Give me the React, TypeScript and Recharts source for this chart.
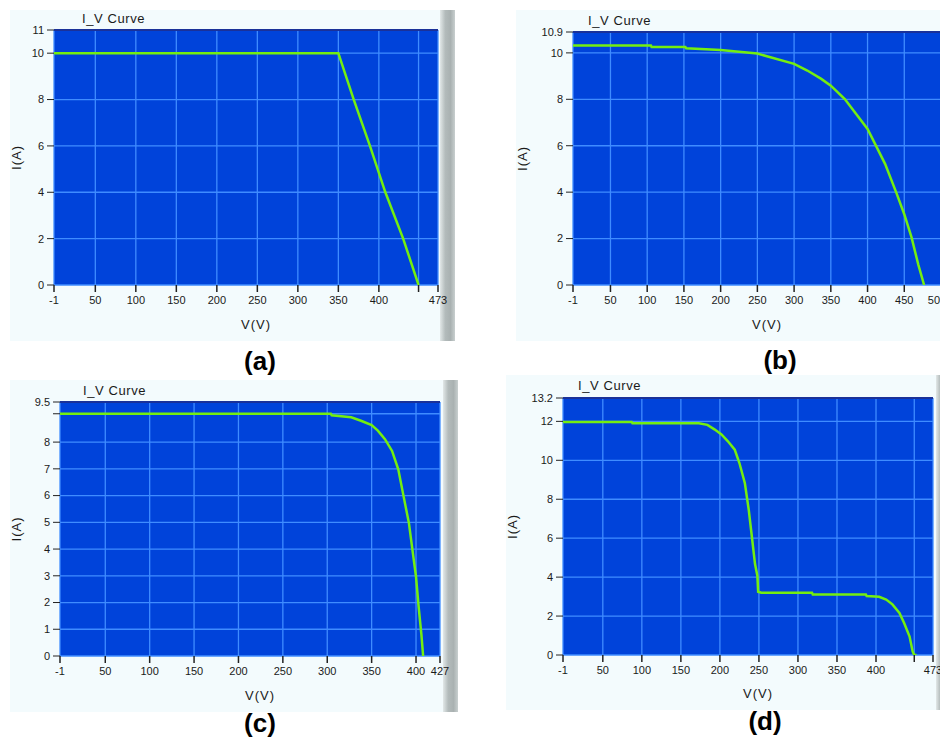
import React from "react";
import { LineChart, Line, XAxis, YAxis, CartesianGrid, ReferenceLine, Label } from "recharts";

// panel (a)
const voltsA = [-1, 100, 200, 300, 350, 369, 389, 408, 430, 449];
const ampsA = [10, 10, 10, 10, 10, 8, 6, 4, 2, 0];
const xTicksA = [-1, 50, 100, 150, 200, 250, 300, 350, 400, 449, 473];
const yTicksA = [0, 2, 4, 6, 8, 10, 11];

// panel (b)
const voltsB = [-1, 50, 105, 106, 152, 153, 200, 250, 300, 318, 337, 350, 369, 400, 424, 439, 450, 460, 469, 477];
const ampsB = [10.32, 10.32, 10.32, 10.25, 10.25, 10.2, 10.12, 9.97, 9.53, 9.24, 8.88, 8.59, 8.01, 6.72, 5.21, 3.99, 3.05, 2.04, 0.89, 0];
const xTicksB = [-1, 50, 100, 150, 200, 250, 300, 350, 400, 450, 500];
const yTicksB = [0, 2, 4, 6, 8, 10, 10.9];

// panel (c)
const voltsC = [-1, 100, 200, 304, 305, 327, 338, 350, 357, 365, 373, 380, 386, 392, 396, 400, 403, 406, 408];
const ampsC = [9.06, 9.06, 9.06, 9.06, 9.0, 8.93, 8.8, 8.64, 8.43, 8.11, 7.67, 6.98, 5.97, 4.97, 3.96, 2.96, 1.82, 0.82, 0];
const xTicksC = [-1, 50, 100, 150, 200, 250, 300, 350, 400, 427];
const yTicksC = [0, 1, 2, 3, 4, 5, 6, 7, 8, 9.06, 9.5];

// panel (d)
const voltsD = [-1, 87, 88, 173, 184, 193, 202, 210, 219, 225, 232, 237, 241, 245, 248, 249, 253, 318, 319, 387, 388, 404, 413, 421, 430, 436, 443, 447, 449, 452];
const ampsD = [11.97, 11.97, 11.9, 11.9, 11.82, 11.59, 11.33, 10.99, 10.55, 9.86, 8.82, 7.44, 6.06, 4.67, 4.07, 3.25, 3.2, 3.2, 3.11, 3.11, 3.03, 2.99, 2.85, 2.6, 2.16, 1.64, 0.95, 0.17, 0, 0];
const xTicksD = [-1, 50, 100, 150, 200, 250, 300, 350, 400, 449, 473];
const yTicksD = [0, 2, 4, 6, 8, 10, 12, 13.2];

const FONT = "'Liberation Sans', Arial, sans-serif";
const EXTRA = 24; // room on the right so the last tick label is not clipped
const toRows = (v: number[], i: number[]) => v.map((x, k) => ({ v: x, i: i[k] }));

interface PanelProps {
  caption: string;
  box: [number, number, number, number]; // left, top, right, bottom
  plot: [number, number, number, number];
  barRight: number;
  captionX: number;
  captionY: number;
  titleX: number;
  titleY: number;
  volts: number[];
  amps: number[];
  xTicks: number[];
  yTicks: number[];
  hideX?: number[];
  hideY?: number[];
  lastShift?: number;
}

function Panel(p: PanelProps) {
  const [bl, bt, br, bb] = p.box;
  const [pl, pt, pr, pb] = p.plot;
  const w = br - bl;
  const h = bb - bt;
  const xMin = p.xTicks[0];
  const xMax = p.xTicks[p.xTicks.length - 1];
  const yMax = p.yTicks[p.yTicks.length - 1];
  const tickStyle = { fontSize: 11, fill: "#1a1a1a", fontFamily: FONT };

  const XTick = (props: any) => {
    const { x, y, payload } = props;
    const v = payload.value as number;
    if ((p.hideX || []).includes(v)) return <g />;
    const shift = v === xMax ? p.lastShift || 0 : 0;
    return (
      <text x={x + shift} y={y} dy="0.71em" textAnchor="middle" {...tickStyle}>
        {String(v)}
      </text>
    );
  };

  return (
    <>
      <div style={{ position: "absolute", left: bl, top: bt, width: w, height: h, background: "#f3fbfd" }} />
      <div
        style={{
          position: "absolute",
          left: br,
          top: bt,
          width: p.barRight - br,
          height: h,
          background: "linear-gradient(to right, #e2e8e8 0%, #b3bbbb 35%, #a9b1b1 70%, #c8cfcf 100%)",
        }}
      />
      <div style={{ position: "absolute", left: bl, top: bt, width: w + EXTRA, height: h }}>
        <LineChart
          width={w + EXTRA}
          height={h}
          data={toRows(p.volts, p.amps)}
          margin={{ top: pt - bt, right: br - pr + EXTRA, left: 0, bottom: 0 }}
        >
          <CartesianGrid stroke="#3f8cff" strokeWidth={1.3} fill="#0043da" fillOpacity={1} />
          <XAxis
            type="number"
            dataKey="v"
            domain={[xMin, xMax]}
            ticks={p.xTicks}
            interval={0}
            allowDataOverflow
            height={bb - pb}
            axisLine={false}
            tickLine={{ stroke: "#222", strokeWidth: 1.5 }}
            tickSize={7}
            tickMargin={4}
            tick={<XTick />}
          >
            <Label
              value="V(V)"
              position="insideBottom"
              offset={12}
              dx={10}
              style={{ fontSize: 13, fill: "#1a1a1a", fontFamily: FONT, letterSpacing: 1 }}
            />
          </XAxis>
          <YAxis
            type="number"
            domain={[0, yMax]}
            ticks={p.yTicks}
            interval={0}
            allowDataOverflow
            width={pl - bl}
            axisLine={false}
            tickLine={{ stroke: "#222", strokeWidth: 1 }}
            tickSize={7}
            tickMargin={3}
            tick={tickStyle}
            tickFormatter={(t: number) => ((p.hideY || []).includes(t) ? "" : String(t))}
          >
            <Label
              value="I(A)"
              angle={-90}
              position="insideLeft"
              offset={6}
              style={{ fontSize: 13, fill: "#1a1a1a", fontFamily: FONT, textAnchor: "middle", letterSpacing: 1 }}
            />
          </YAxis>
          <ReferenceLine y={yMax} stroke="#1a3199" strokeWidth={2} ifOverflow="extendDomain" />
          <Line
            type="linear"
            dataKey="i"
            stroke="#74ee0f"
            strokeWidth={2.5}
            dot={false}
            isAnimationActive={false}
          />
        </LineChart>
        <div
          style={{
            position: "absolute",
            left: p.titleX - bl,
            top: p.titleY - bt - 8,
            fontSize: 13,
            fontFamily: FONT,
            color: "#1a1a1a",
            letterSpacing: 0.6,
            whiteSpace: "nowrap",
          }}
        >
          I_V Curve
        </div>
      </div>
      <div
        style={{
          position: "absolute",
          left: p.captionX - 40,
          top: p.captionY - 16,
          width: 80,
          textAlign: "center",
          fontSize: 26,
          fontWeight: "bold",
          fontFamily: FONT,
          color: "#000",
          lineHeight: "32px",
        }}
      >
        {p.caption}
      </div>
    </>
  );
}

export default function App() {
  return (
    <div style={{ position: "relative", width: 948, height: 747, background: "#fff", margin: -8, overflow: "hidden" }}>
      <Panel
        caption="(a)"
        box={[10, 10, 440, 341]}
        plot={[54, 30, 438, 285]}
        barRight={455}
        captionX={260}
        captionY={361}
        titleX={82}
        titleY={19}
        volts={voltsA}
        amps={ampsA}
        xTicks={xTicksA}
        yTicks={yTicksA}
        hideX={[449]}
      />
      <Panel
        caption="(b)"
        box={[516, 10, 943, 341]}
        plot={[573, 32, 941, 285]}
        barRight={948}
        captionX={780}
        captionY={360}
        titleX={588}
        titleY={21}
        volts={voltsB}
        amps={ampsB}
        xTicks={xTicksB}
        yTicks={yTicksB}
        lastShift={-4}
      />
      <Panel
        caption="(c)"
        box={[10, 380, 443, 712]}
        plot={[60, 402, 440, 656]}
        barRight={458}
        captionX={260}
        captionY={723}
        titleX={83}
        titleY={391}
        volts={voltsC}
        amps={ampsC}
        xTicks={xTicksC}
        yTicks={yTicksC}
        hideY={[9.06]}
      />
      <Panel
        caption="(d)"
        box={[506, 375, 936, 710]}
        plot={[563, 398, 933, 655]}
        barRight={948}
        captionX={765}
        captionY={721}
        titleX={578}
        titleY={386}
        volts={voltsD}
        amps={ampsD}
        xTicks={xTicksD}
        yTicks={yTicksD}
        hideX={[449]}
      />
    </div>
  );
}
